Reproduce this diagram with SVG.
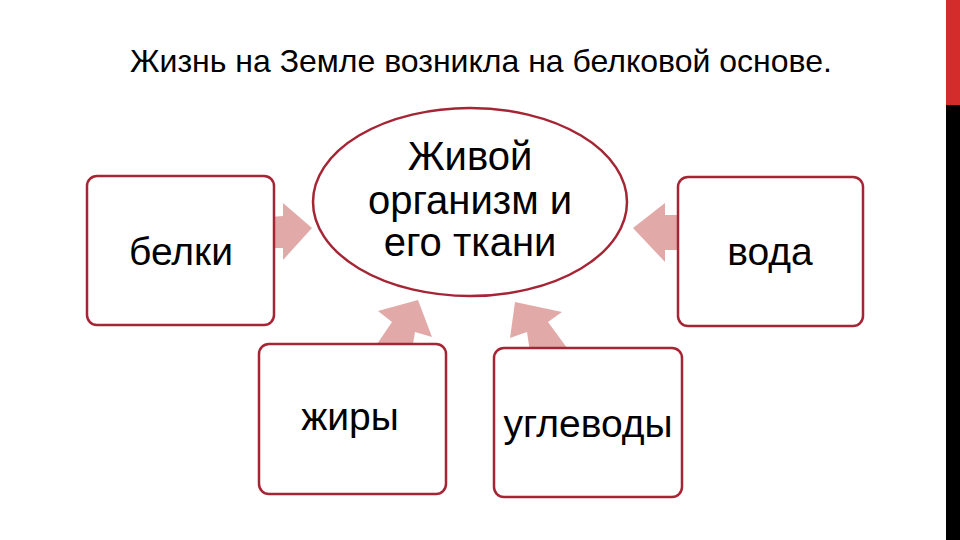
<svg xmlns="http://www.w3.org/2000/svg" width="960" height="540" viewBox="0 0 960 540">
<style>
.box{fill:#fff;stroke:#a52535;stroke-width:2.5}
.arr{fill:#e2a9a9}
text{font-family:"Liberation Sans",Arial,sans-serif;fill:#000}
.t{font-size:39px;text-anchor:middle}
</style>
<rect width="960" height="540" fill="#fff"/>
<rect x="946" y="0" width="14" height="105" fill="#d42b2b"/>
<rect x="946" y="105" width="14" height="435" fill="#000"/>
<text x="130" y="72" font-size="32">Жизнь на Земле возникла на белковой основе.</text>
<g id="connectors">
<polygon class="arr" points="255,218 283,216 283,203 312,228 283,260 283,248 255,248"/>
<polygon class="arr" points="633,228 665,203 665,215 692,215 692,250 665,250 665,262"/>
<polygon class="arr" points="418,300 432,337 415,332 412,350 373,350 392,322 378,311"/>
<polygon class="arr" points="515,302 562,312 548,322 570,352 530,352 527,332 510,338"/>
</g>
<g id="center"><ellipse class="box" cx="470" cy="202" rx="157" ry="94"/>
<text class="t" x="470" y="170" style="font-size:40px">Живой</text>
<text class="t" x="470" y="214" style="font-size:40px">организм и</text>
<text class="t" x="470" y="256" style="font-size:40px">его ткани</text></g>
<g id="belki"><rect class="box" x="87" y="176" width="187" height="149" rx="10"/><text class="t" x="181" y="265">белки</text></g>
<g id="voda"><rect class="box" x="678" y="177" width="185" height="149" rx="10"/><text class="t" x="770" y="265">вода</text></g>
<g id="zhiry"><rect class="box" x="259" y="344" width="187" height="150" rx="10"/><text class="t" x="350" y="430">жиры</text></g>
<g id="uglevody"><rect class="box" x="494" y="348" width="188" height="149" rx="10"/><text class="t" x="588" y="437">углеводы</text></g>
</svg>
